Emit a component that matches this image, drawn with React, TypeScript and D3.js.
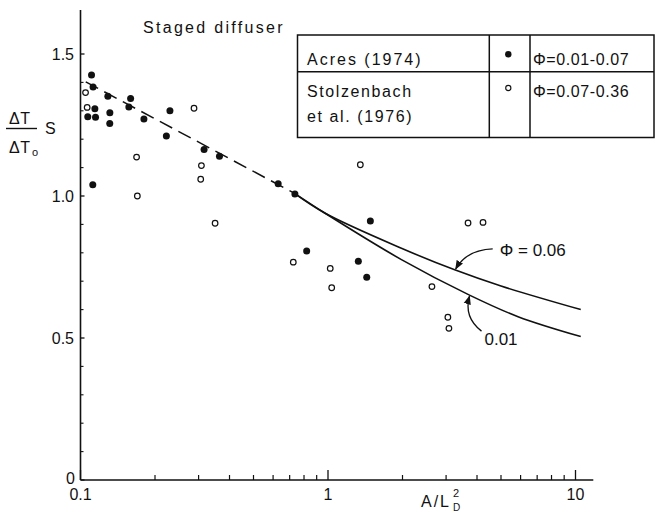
import React from 'react';
import * as d3 from 'd3';

// Acres (1974), filled circles: [A/L_D^2, ΔT/ΔT0·S]
const acresPoints: [number, number][] = [
  [0.1108, 1.426], [0.1124, 1.384], [0.107, 1.279], [0.1143, 1.307], [0.115, 1.277],
  [0.129, 1.351], [0.1314, 1.293], [0.1313, 1.255], [0.1594, 1.343], [0.1568, 1.313],
  [0.1804, 1.271], [0.2298, 1.3], [0.2223, 1.211], [0.3157, 1.164], [0.3643, 1.14],
  [0.1121, 1.04], [0.629, 1.043], [0.735, 1.007], [0.82, 0.806], [1.483, 0.912],
  [1.326, 0.77], [1.434, 0.714],
];

// Stolzenbach et al. (1976), open circles
const stolzPoints: [number, number][] = [
  [0.1048, 1.364], [0.1064, 1.312], [0.2875, 1.309], [0.308, 1.107], [0.306, 1.059],
  [0.1685, 1.137], [0.1697, 1.0], [0.3498, 0.904], [1.351, 1.11], [3.68, 0.905],
  [4.23, 0.907], [0.724, 0.767], [1.021, 0.745], [1.035, 0.677], [2.63, 0.681],
  [3.05, 0.573], [3.08, 0.534],
];

// Curves
const dashedCurve: [number, number][] = [[0.105, 1.402], [0.73, 1.01]];
const curvePhi006: [number, number][] = [
  [0.73, 1.01], [0.97, 0.94], [1.98, 0.816], [3.25, 0.74], [5.0, 0.683], [10.5, 0.6],
];
const curvePhi001: [number, number][] = [
  [0.73, 1.01], [0.97, 0.94], [1.98, 0.776], [3.73, 0.651], [5.86, 0.575], [10.5, 0.505],
];

const yTickValues = [0, 0.5, 1.0, 1.5];
const yTickLabels = ['0', '0.5', '1.0', '1.5'];
const xMajorTicks = [0.1, 1, 10];
const xMajorLabels = ['0.1', '1', '10'];

const W = 655;
const H = 511;
const FONT = '"Liberation Sans", Arial, sans-serif';

export default function App() {
  const x = d3.scaleLog().domain([0.1, 10]).range([80.5, 575.5]);
  const y = d3.scaleLinear().domain([0, 1.5]).range([480, 54]);

  const xMinor: number[] = [];
  for (const d of [0.1, 1]) for (let k = 2; k <= 9; k++) xMinor.push(d * k);
  const yMinor = d3.range(1, 16).map((i) => i / 10).filter((v) => Math.abs(v * 2 - Math.round(v * 2)) > 1e-6);

  const line = d3.line<[number, number]>().x((d) => x(d[0])).y((d) => y(d[1])).curve(d3.curveCatmullRom.alpha(0.5));
  const straight = d3.line<[number, number]>().x((d) => x(d[0])).y((d) => y(d[1]));

  const upTip: [number, number] = [3.25, 0.74];
  const loTip: [number, number] = [3.73, 0.651];
  const ux = x(upTip[0]), uy = y(upTip[1]);
  const lx = x(loTip[0]), ly = y(loTip[1]);

  const axisColor = '#111';

  return (
    <svg width={W} height={H} style={{ position: 'absolute', left: 0, top: 0, background: '#fff' }} fontFamily={FONT}>
      <defs>
        <marker id="ah" viewBox="0 0 10 10" refX="9" refY="5" markerWidth="7" markerHeight="7" orient="auto-start-reverse">
          <path d="M0,1 L10,5 L0,9 z" fill="#111" />
        </marker>
      </defs>
      <rect x={0} y={0} width={W} height={H} fill="#fff" />

      {/* axes */}
      <line x1={x(0.1)} y1={y(0)} x2={x(0.1)} y2={y(1.655)} stroke={axisColor} strokeWidth={1.6} />
      <line x1={x(0.1)} y1={y(0)} x2={x(11.8)} y2={y(0)} stroke={axisColor} strokeWidth={1.6} />

      {/* y ticks */}
      {yTickValues.map((v) => (
        <line key={'ym' + v} x1={x(0.1)} x2={x(0.1) + 4} y1={y(v)} y2={y(v)} stroke={axisColor} strokeWidth={1.3} />
      ))}
      {yMinor.map((v) => (
        <line key={'yn' + v} x1={x(0.1)} x2={x(0.1) + 3} y1={y(v)} y2={y(v)} stroke={axisColor} strokeWidth={1.1} />
      ))}
      {yTickValues.map((v, i) => (
        <text key={'yl' + v} x={v === 0 ? 75 : 74} y={y(v) + (v === 0 ? 3.5 : 6)} textAnchor="end" fontSize={16} fill="#111">{yTickLabels[i]}</text>
      ))}

      {/* x ticks */}
      {xMajorTicks.map((v) => (
        <line key={'xm' + v} x1={x(v)} x2={x(v)} y1={y(0)} y2={y(0) - 10} stroke={axisColor} strokeWidth={1.3} />
      ))}
      {xMinor.map((v) => (
        <line key={'xn' + v} x1={x(v)} x2={x(v)} y1={y(0)} y2={y(0) - 5} stroke={axisColor} strokeWidth={1.2} />
      ))}
      {xMajorTicks.map((v, i) => (
        <text key={'xl' + v} x={x(v)} y={499.5} textAnchor="middle" fontSize={16} fill="#111">{xMajorLabels[i]}</text>
      ))}

      {/* axis labels */}
      <text x={421} y={506.5} fontSize={16} fill="#111" letterSpacing={2}>A/L</text>
      <text x={453} y={497} fontSize={11} fill="#111">2</text>
      <text x={453} y={510.5} fontSize={10} fill="#111">D</text>

      <text x={9} y={123.5} fontSize={16} fill="#111" letterSpacing={0.5}>ΔT</text>
      <line x1={6} x2={37} y1={128.5} y2={128.5} stroke="#111" strokeWidth={1.4} />
      <text x={9} y={152.5} fontSize={16} fill="#111" letterSpacing={0.5}>ΔT</text>
      <text x={32} y={156} fontSize={11} fill="#111">o</text>
      <text x={45} y={133.5} fontSize={16} fill="#111">S</text>

      <text x={143} y={32.5} fontSize={16} fill="#111" letterSpacing={2.3}>Staged diffuser</text>

      {/* curves */}
      <path d={straight(dashedCurve) || ''} fill="none" stroke="#111" strokeWidth={1.5} strokeDasharray="14,7" />
      <path d={line(curvePhi006) || ''} fill="none" stroke="#111" strokeWidth={1.6} />
      <path d={line(curvePhi001) || ''} fill="none" stroke="#111" strokeWidth={1.6} />

      {/* points */}
      {acresPoints.map((d, i) => (
        <circle key={'a' + i} cx={x(d[0])} cy={y(d[1])} r={3.5} fill="#111" />
      ))}
      {stolzPoints.map((d, i) => (
        <circle key={'s' + i} cx={x(d[0])} cy={y(d[1])} r={2.8} fill="#fff" stroke="#111" strokeWidth={1.2} />
      ))}

      {/* annotations */}
      <path d={`M${ux + 38},${uy - 21} Q${ux + 12},${uy - 20} ${ux + 1},${uy - 1}`} fill="none" stroke="#111" strokeWidth={1.3} markerEnd="url(#ah)" />
      <text x={ux + 45} y={uy - 13.5} fontSize={17} fill="#111">Φ = 0.06</text>
      <path d={`M${lx + 12},${ly + 36} Q${lx - 6},${ly + 22} ${lx},${ly + 1}`} fill="none" stroke="#111" strokeWidth={1.3} markerEnd="url(#ah)" />
      <text x={lx + 15} y={ly + 50} fontSize={17} fill="#111">0.01</text>

      {/* legend table */}
      <g stroke="#111" strokeWidth={1.5} fill="none">
        <rect x={297.5} y={35} width={356.5} height={102.5} />
        <line x1={297.5} x2={654} y1={71.7} y2={71.7} />
        <line x1={489.3} x2={489.3} y1={35} y2={137.5} />
        <line x1={530} x2={530} y1={35} y2={137.5} />
      </g>
      <text x={307} y={65} fontSize={16} fill="#111" letterSpacing={2}>Acres (1974)</text>
      <text x={307} y={96.7} fontSize={16} fill="#111" letterSpacing={1.6}>Stolzenbach</text>
      <text x={307} y={121.7} fontSize={16} fill="#111" letterSpacing={1.6}>et al. (1976)</text>
      <circle cx={508.3} cy={54.3} r={3.2} fill="#111" />
      <circle cx={508.3} cy={88} r={2.6} fill="#fff" stroke="#111" strokeWidth={1.1} />
      <text x={533} y={65} fontSize={16} fill="#111" letterSpacing={0.6}>Φ=0.01-0.07</text>
      <text x={533} y={96.7} fontSize={16} fill="#111" letterSpacing={0.6}>Φ=0.07-0.36</text>
    </svg>
  );
}
